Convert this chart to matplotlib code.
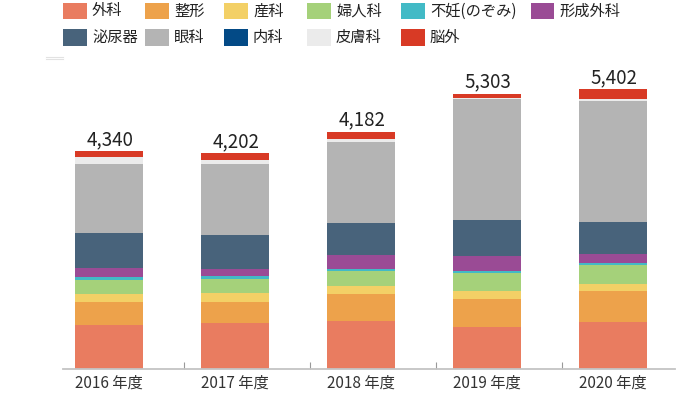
import matplotlib
matplotlib.use("Agg")
import matplotlib.pyplot as plt
from matplotlib.patches import Rectangle
from matplotlib.lines import Line2D
import numpy as np

plt.rcParams["font.family"] = ["Noto Sans CJK JP", "DejaVu Sans"]

YEARS = ["2016 年度", "2017 年度", "2018 年度", "2019 年度", "2020 年度"]
TOTAL_LABELS = ["4,340", "4,202", "4,182", "5,303", "5,402"]

DEPTS = ["外科", "整形", "産科", "婦人科", "不妊(のぞみ)", "形成外科",
         "泌尿器", "眼科", "内科", "皮膚科", "脳外"]

# values, stacked bottom to top in DEPTS order
geka = [894, 926, 974, 840, 946]
seikei = [460, 420, 526, 566, 614]
sanka = [146, 180, 166, 160, 146]
fujinka = [294, 280, 300, 360, 380]
funin = [54, 60, 46, 34, 34]
keisei = [180, 140, 274, 306, 186]
hinyoki = [694, 680, 634, 720, 634]
ganka = [1380, 1420, 1634, 2420, 2434]
naika = [0, 10, 0, 0, 0]
hifuka = [154, 80, 46, 26, 26]
nougai = [114, 126, 154, 80, 206]

SERIES = [geka, seikei, sanka, fujinka, funin, keisei,
          hinyoki, ganka, naika, hifuka, nougai]
COLORS = ["#E97C60", "#EDA24B", "#F3D066", "#A5D17A", "#42BAC6", "#9A4B95",
          "#48637B", "#B4B4B4", "#034A86", "#EBEBEB", "#D83A25"]

W, H = 700, 393
fig = plt.figure(figsize=(W / 100, H / 100), dpi=100)
ax = fig.add_axes([46 / W, (H - 369.3) / H, 630 / W, (369.3 - 50) / H])

x = np.arange(len(YEARS))
bottom = np.zeros(len(YEARS))
for vals, color in zip(SERIES, COLORS):
    vals = np.array(vals, dtype=float)
    ax.bar(x, vals, 0.54, bottom=bottom, color=color, linewidth=0)
    bottom += vals

for xi, top, label in zip(x, bottom, TOTAL_LABELS):
    ax.annotate(label, (xi, top), xytext=(1, 6), textcoords="offset pixels",
                ha="center", va="baseline", fontsize=13.5, color="#222222")

ax.set_xlim(-0.5, 4.5)
ax.set_ylim(0, 319.3 * 20)
for side in ["left", "right", "top"]:
    ax.spines[side].set_visible(False)
ax.spines["bottom"].set_color("#C4C4C4")
ax.spines["bottom"].set_linewidth(1.3)
ax.spines["bottom"].set_bounds(-0.365, 4.49)
ax.set_yticks([])
ax.set_xticks(x)
ax.set_xticklabels(YEARS, fontsize=11, color="#333333")
ax.tick_params(axis="x", which="major", length=0, pad=4)
ax.set_xticks(x[:-1] + 0.595, minor=True)
ax.tick_params(axis="x", which="minor", direction="in", length=5,
               width=0.8, color="#999999")

# legend laid out by hand, two rows
col_x = [63, 145, 224, 307, 401, 530.5]
row_y = [11, 37.5]
order = [(0, 0), (0, 1), (0, 2), (0, 3), (0, 4), (0, 5),
         (1, 0), (1, 1), (1, 2), (1, 3), (1, 4)]
for name, color, (r, c) in zip(DEPTS, COLORS, order):
    px, py = col_x[c], row_y[r]
    fig.patches.append(Rectangle((px / W, 1 - (py + 8.3) / H), 23.5 / W, 16.6 / H,
                                 transform=fig.transFigure, facecolor=color,
                                 edgecolor="none", figure=fig))
    fig.text((px + 29) / W, 1 - py / H, name, ha="left", va="center",
             fontsize=11, color="#222222")

# faint marks at the top left
for yy in (57, 59.3):
    fig.add_artist(Line2D([46 / W, 62.7 / W], [1 - yy / H, 1 - yy / H],
                          color="#E2E2E2", linewidth=0.8))

fig.savefig("out.png", dpi=100)
